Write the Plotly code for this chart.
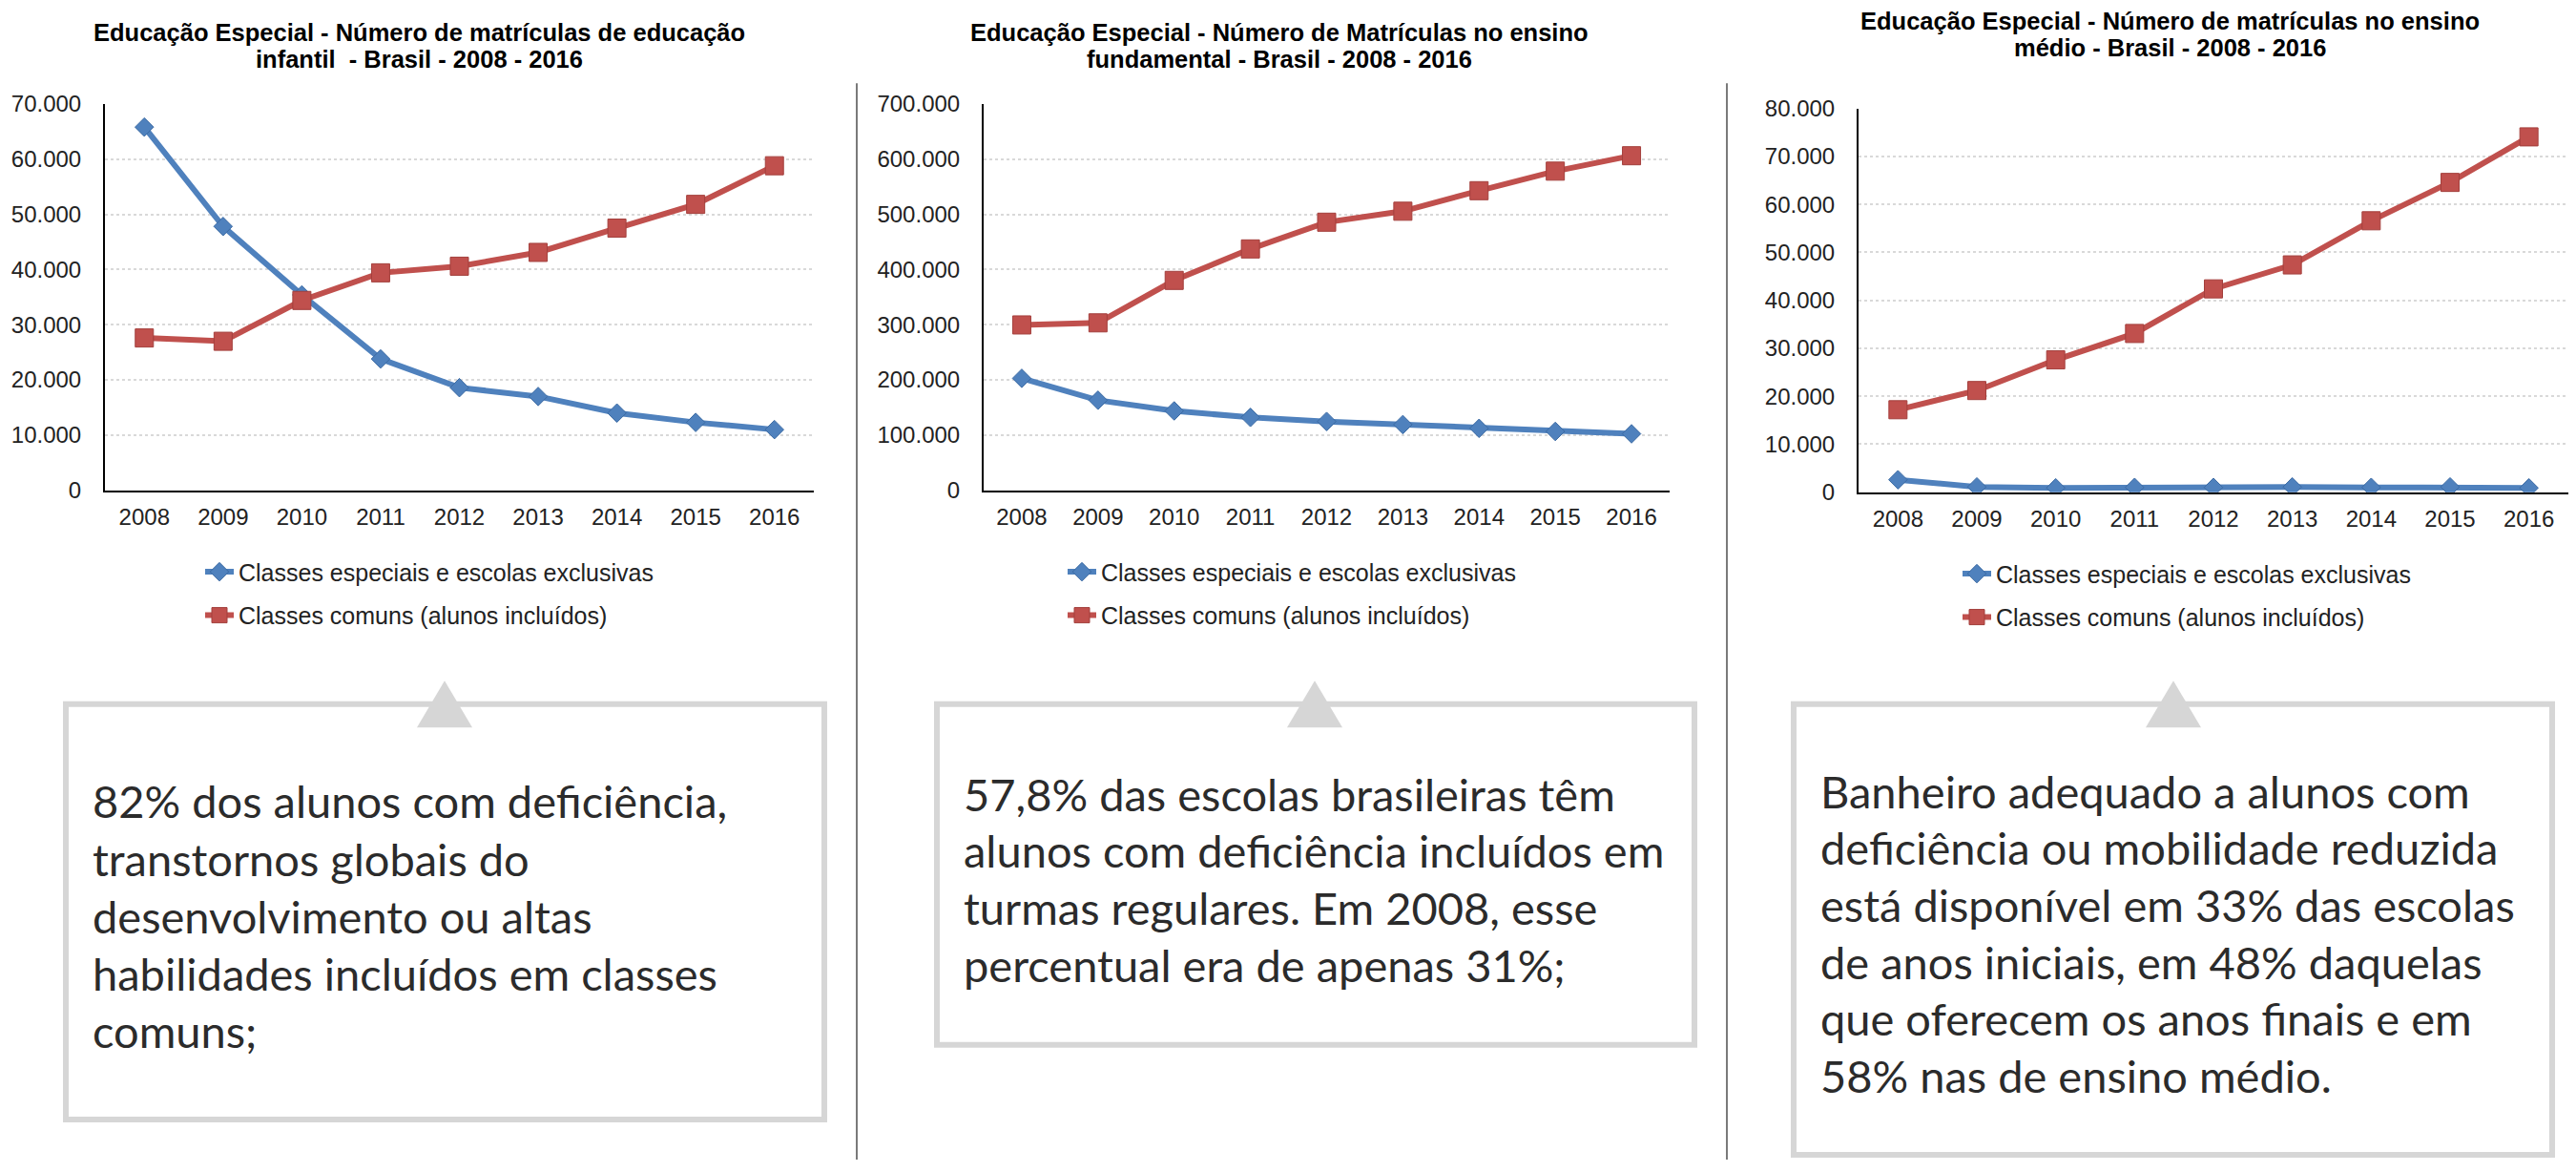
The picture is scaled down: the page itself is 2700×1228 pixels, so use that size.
import plotly.graph_objects as go

W, H = 2700, 1228

years = ["2008", "2009", "2010", "2011", "2012", "2013", "2014", "2015", "2016"]

# Educação infantil
infantil_especiais = [65800, 47800, 35400, 23800, 18600, 17000, 14000, 12300, 11000]
infantil_comuns = [27600, 27000, 34400, 39400, 40600, 43100, 47500, 51800, 58800]
# Ensino fundamental
fund_especiais = [202900, 163200, 143900, 132100, 124700, 119100, 112300, 106700, 102400]
fund_comuns = [299600, 303400, 380300, 437300, 485700, 505600, 542800, 578200, 606100]
# Ensino médio
medio_especiais = [2600, 1100, 900, 1000, 1000, 1100, 1000, 1100, 900]
medio_comuns = [17200, 21200, 27600, 33100, 42400, 47400, 56600, 64600, 74100]

serie_especiais = "Classes especiais e escolas exclusivas"
serie_comuns = "Classes comuns (alunos incluídos)"

titles = [
    ["Educação Especial - Número de matrículas de educação",
     "infantil \u00a0- Brasil - 2008 - 2016"],
    ["Educação Especial - Número de Matrículas no ensino",
     "fundamental - Brasil - 2008 - 2016"],
    ["Educação Especial - Número de matrículas no ensino",
     "médio - Brasil - 2008 - 2016"],
]

box_texts = [
    ["82% dos alunos com deficiência,",
     "transtornos globais do",
     "desenvolvimento ou altas",
     "habilidades incluídos em classes",
     "comuns;"],
    ["57,8% das escolas brasileiras têm",
     "alunos com deficiência incluídos em",
     "turmas regulares. Em 2008, esse",
     "percentual era de apenas 31%;"],
    ["Banheiro adequado a alunos com",
     "deficiência ou mobilidade reduzida",
     "está disponível em 33% das escolas",
     "de anos iniciais, em 48% daquelas",
     "que oferecem os anos finais e em",
     "58% nas de ensino médio."],
]

BLUE = "#4F81BD"
RED = "#C0504D"
AX_FONT = "Liberation Sans, Arial, sans-serif"
BOX_FONT = "Lato, Carlito, Calibri, sans-serif"


def px(x):
    return x / W


def py(y):
    return 1 - y / H


# panel geometry in pixels
panels = [
    dict(x0=110, x1=853, ytop=97, ybot=511, ymax=70000, dtick=10000,
         esp=infantil_especiais, com=infantil_comuns, tx=439, ty=[20, 49],
         legx=210, legy=575),
    dict(x0=1031, x1=1750, ytop=97, ybot=511, ymax=700000, dtick=100000,
         esp=fund_especiais, com=fund_comuns, tx=1341, ty=[20, 49],
         legx=1114, legy=575),
    dict(x0=1948, x1=2692, ytop=102, ybot=513, ymax=80000, dtick=10000,
         esp=medio_especiais, com=medio_comuns, tx=2274, ty=[8, 37],
         legx=2052, legy=577),
]

fig = go.Figure()
layout = dict(
    width=W, height=H,
    margin=dict(l=0, r=0, t=0, b=0),
    paper_bgcolor="white", plot_bgcolor="white",
    separators=",.",
    showlegend=True,
    annotations=[], shapes=[],
)

for i, p in enumerate(panels):
    n = "" if i == 0 else str(i + 1)
    leg = "legend" if i == 0 else "legend" + str(i + 1)
    fig.add_trace(go.Scatter(
        x=years, y=p["esp"], name=serie_especiais, mode="lines+markers",
        line=dict(color=BLUE, width=6),
        marker=dict(symbol="diamond", size=15, color=BLUE,
                    line=dict(color="#3b6aa3", width=1)),
        xaxis="x" + n, yaxis="y" + n, legend=leg, legendgroup=f"a{i}",
    ))
    fig.add_trace(go.Scatter(
        x=years, y=p["com"], name=serie_comuns, mode="lines+markers",
        line=dict(color=RED, width=6),
        marker=dict(symbol="square", size=19, color=RED,
                    line=dict(color="#a33f3c", width=1)),
        xaxis="x" + n, yaxis="y" + n, legend=leg, legendgroup=f"b{i}",
    ))
    layout["xaxis" + n] = dict(
        type="category", domain=[px(p["x0"]), px(p["x1"])],
        anchor="y" + n, range=[-0.5, 8.5],
        showline=True, linecolor="black", linewidth=2,
        showgrid=False, zeroline=False, ticks="",
        tickfont=dict(family=AX_FONT, size=24, color="#222"),
        ticklabelstandoff=5, fixedrange=True,
    )
    layout["yaxis" + n] = dict(
        domain=[py(p["ybot"]), py(p["ytop"])], anchor="x" + n,
        range=[0, p["ymax"]], dtick=p["dtick"], tick0=0,
        tickformat=",d",
        showline=True, linecolor="black", linewidth=2,
        showgrid=True, gridcolor="#d9d9d9", griddash="dot", gridwidth=2,
        zeroline=False, ticks="",
        tickfont=dict(family=AX_FONT, size=24, color="#222"),
        ticklabelstandoff=18, fixedrange=True,
    )
    layout[leg] = dict(
        x=px(p["legx"]), y=py(p["legy"]), xanchor="left", yanchor="top",
        font=dict(family=AX_FONT, size=25, color="#222"),
        bgcolor="rgba(0,0,0,0)", borderwidth=0,
        traceorder="grouped", tracegroupgap=10,
    )
    for line_txt, ly in zip(titles[i], p["ty"]):
        layout["annotations"].append(dict(
            text="<b>" + line_txt + "</b>", x=px(p["tx"]), y=py(ly),
            xref="paper", yref="paper",
            xanchor="center", yanchor="middle", showarrow=False, align="center",
            font=dict(family=AX_FONT, size=25.5, color="black"),
        ))

# vertical separators
for sx in [898, 1810]:
    layout["shapes"].append(dict(
        type="line", xref="paper", yref="paper",
        x0=px(sx), x1=px(sx), y0=py(75), y1=py(H),
        line=dict(color="#7a7a7a", width=2),
    ))

# text boxes with pointer triangles
boxes = [
    dict(x0=69, x1=864, y0=740, y1=1185, tri=466, tx=95,
         lines=[844, 906, 967, 1029, 1090]),
    dict(x0=982, x1=1776, y0=740, y1=1105, tri=1378, tx=1008,
         lines=[836, 897, 958, 1019]),
    dict(x0=1880, x1=2675, y0=740, y1=1223, tri=2278, tx=1906,
         lines=[833, 894, 955, 1016, 1077, 1138]),
]
for b, texts in zip(boxes, box_texts):
    layout["shapes"].append(dict(
        type="rect", xref="paper", yref="paper",
        x0=px(b["x0"]), x1=px(b["x1"]), y0=py(b["y1"]), y1=py(b["y0"]),
        line=dict(color="#d6d6d6", width=6), fillcolor="white", layer="below",
    ))
    t = b["tri"]
    path = (f"M {px(t - 29)},{py(765)} L {px(t + 29)},{py(765)} "
            f"L {px(t)},{py(715)} Z")
    layout["shapes"].append(dict(
        type="path", xref="paper", yref="paper", path=path,
        fillcolor="#d6d6d6", line=dict(width=0),
    ))
    for ly, txt in zip(b["lines"], texts):
        layout["annotations"].append(dict(
            text=txt, x=px(b["tx"]), y=py(ly), xref="paper", yref="paper",
            xanchor="left", yanchor="middle", showarrow=False, align="left",
            font=dict(family=BOX_FONT, size=47, color="#2b2b2b"),
        ))

fig.update_layout(**layout)
fig.write_html("out.html", config={"displayModeBar": False},
               post_script="document.body.style.margin='0px';")
